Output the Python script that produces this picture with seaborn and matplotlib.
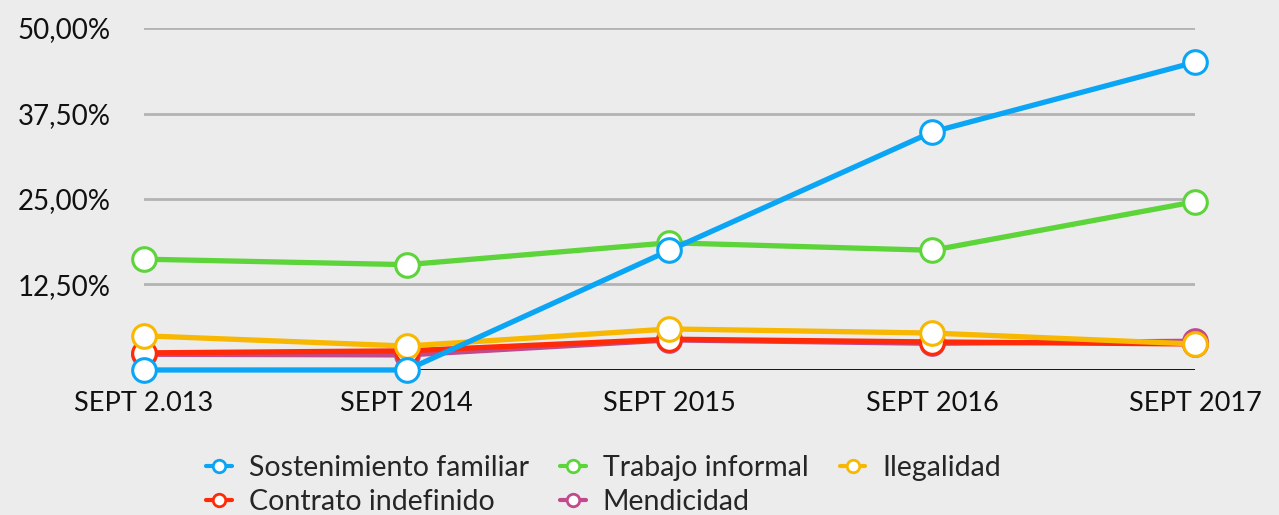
import matplotlib
matplotlib.use("Agg")
import matplotlib.pyplot as plt
import seaborn as sns
import pandas as pd
from matplotlib.lines import Line2D

periods = ["SEPT 2.013", "SEPT 2014", "SEPT 2015", "SEPT 2016", "SEPT 2017"]
sostenimiento = [0.0, 0.0, 17.5, 34.8, 45.0]
trabajo = [16.2, 15.4, 18.6, 17.5, 24.6]
ilegalidad = [5.0, 3.5, 6.0, 5.4, 3.8]
contrato = [2.5, 2.8, 4.5, 4.1, 3.8]
mendicidad = [2.3, 2.2, 4.4, 3.9, 4.2]
series_names = ["Sostenimiento familiar", "Trabajo informal", "Ilegalidad",
                "Contrato indefinido", "Mendicidad"]
series_vals = [sostenimiento, trabajo, ilegalidad, contrato, mendicidad]
colors = ["#0aa5f5", "#5cd43a", "#f8b700", "#ff2a08", "#c04a8c"]
yticks = [12.5, 25.0, 37.5, 50.0]
ytick_labels = ["12,50%", "25,00%", "37,50%", "50,00%"]

rows = []
for name, vals in zip(series_names, series_vals):
    for i, v in enumerate(vals):
        rows.append({"x": i, "value": v, "serie": name})
df = pd.DataFrame(rows)

sns.set_theme(style="white")
plt.rcParams['font.family'] = ['Lato', 'DejaVu Sans']
bg = "#ececec"
fig = plt.figure(figsize=(12.79, 5.15), dpi=100, facecolor=bg)
ax = fig.add_axes([0.1126, 0.2816, 0.9343 - 0.1126, 0.9456 - 0.2816])
ax.set_facecolor(bg)

palette = dict(zip(series_names, colors))
order = series_names[::-1]
sns.lineplot(data=df, x="x", y="value", hue="serie", hue_order=order,
             palette=palette, marker="o", markersize=17, linewidth=3.8,
             markeredgewidth=2.2, ax=ax, legend=False, clip_on=False)
for ln in ax.lines:
    c = ln.get_color()
    ln.set_markerfacecolor("white")
    ln.set_markeredgecolor(c)
    ln.set_clip_on(False)

ax.set_xlim(0, 4)
ax.set_ylim(0, 50)
for yv in yticks:
    ax.axhline(yv, color="#b3b3b3", lw=2, zorder=0)
ax.axhline(0, color="black", lw=2, zorder=0.5)
ax.set_yticks(yticks)
ax.set_yticklabels(ytick_labels, fontsize=20, color="#111111")
ax.set_xticks(range(len(periods)))
ax.set_xticklabels(periods, fontsize=19.5, color="#111111")
ax.tick_params(axis="y", length=0, pad=24)
ax.tick_params(axis="x", length=0, pad=15)
for s in ax.spines.values():
    s.set_visible(False)
ax.set_xlabel("")
ax.set_ylabel("")

handles = {}
for name, c in zip(series_names, colors):
    handles[name] = Line2D([0], [0], color=c, lw=3, marker="o", markersize=9,
                           markerfacecolor="white", markeredgecolor=c,
                           markeredgewidth=2)
leg_order = ["Sostenimiento familiar", "Contrato indefinido", "Trabajo informal",
             "Mendicidad", "Ilegalidad"]
fig.legend([handles[n] for n in leg_order], leg_order, ncol=3, frameon=False,
           loc="lower center", bbox_to_anchor=(0.472, -0.049), fontsize=20.5,
           handlelength=0.9, columnspacing=1.1, handletextpad=0.6,
           labelspacing=0.28)

fig.savefig("out.png", dpi=100, facecolor=bg)
